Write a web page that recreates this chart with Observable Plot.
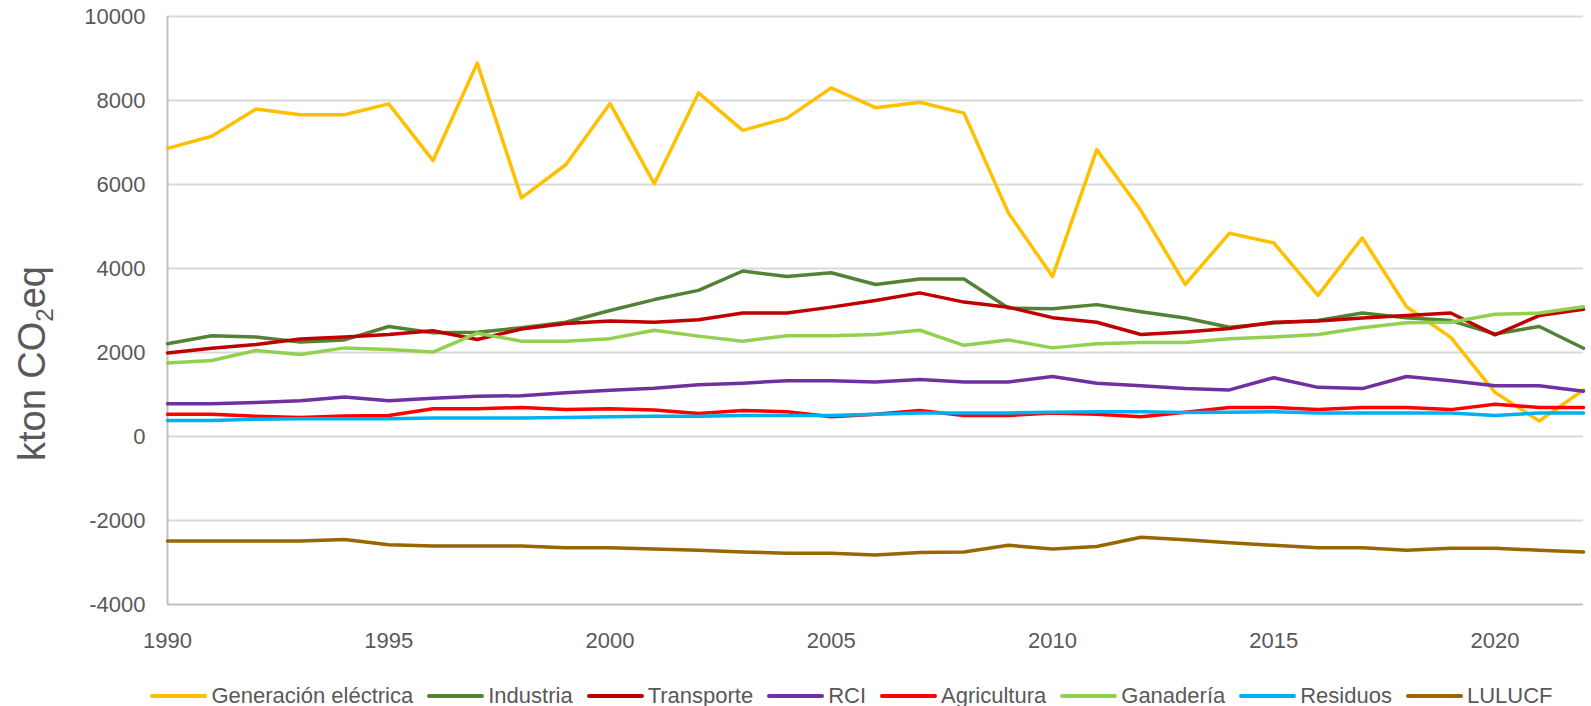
<!DOCTYPE html>
<html><head><meta charset="utf-8">
<script src="https://cdn.jsdelivr.net/npm/d3@7"></script>
<script src="https://cdn.jsdelivr.net/npm/@observablehq/plot@0.6"></script>
<style>
html,body{margin:0;padding:0;background:#fff;overflow:hidden;}
body{width:1591px;height:706px;font-family:"Liberation Sans",Arial,sans-serif;}
#legend{display:flex;justify-content:center;align-items:center;height:32px;padding-left:126px;box-sizing:border-box;width:1591px;font-size:22px;color:#595959;white-space:nowrap;}
.item{display:flex;align-items:center;margin-right:14px;}
.sw{width:57px;height:4px;margin-right:4px;border-radius:2px;}
</style></head><body>
<div id="chart"></div><div id="legend"></div>
<script>
const years = [1990,1991,1992,1993,1994,1995,1996,1997,1998,1999,2000,2001,2002,2003,2004,2005,2006,2007,2008,2009,2010,2011,2012,2013,2014,2015,2016,2017,2018,2019,2020,2021,2022];
const generacion = [6860,7150,7800,7660,7660,7920,6570,8890,5680,6470,7930,6020,8180,7290,7580,8300,7830,7960,7700,5330,3810,6830,5380,3620,4840,4610,3360,4730,3090,2360,1050,370,1110];
const industria = [2210,2400,2370,2250,2300,2620,2470,2480,2590,2720,3000,3260,3480,3940,3810,3900,3620,3750,3750,3060,3040,3140,2970,2820,2600,2700,2760,2940,2830,2760,2440,2620,2100];
const transporte = [1990,2100,2190,2320,2370,2430,2520,2310,2560,2690,2750,2720,2780,2940,2940,3080,3240,3420,3200,3080,2830,2720,2430,2490,2570,2720,2750,2820,2880,2940,2420,2880,3030];
const rci = [780,780,810,850,940,850,910,960,970,1040,1100,1150,1230,1270,1330,1330,1300,1360,1300,1300,1430,1270,1210,1140,1110,1400,1170,1140,1430,1330,1210,1210,1080];
const agricultura = [530,530,480,450,490,500,660,660,690,640,660,630,550,620,590,470,530,620,500,500,560,530,470,580,690,690,640,690,690,640,770,690,690];
const ganaderia = [1750,1810,2050,1950,2110,2070,2010,2460,2270,2270,2330,2530,2390,2270,2400,2400,2430,2530,2170,2300,2110,2210,2240,2240,2330,2370,2430,2590,2710,2720,2910,2940,3090];
const residuos = [380,380,410,420,420,420,440,440,440,450,470,480,480,500,500,500,530,560,560,560,580,590,590,570,580,590,560,560,560,560,500,560,560];
const lulucf = [-2490,-2490,-2490,-2490,-2450,-2580,-2610,-2610,-2610,-2650,-2650,-2680,-2710,-2750,-2780,-2780,-2820,-2760,-2750,-2590,-2680,-2620,-2400,-2460,-2530,-2590,-2650,-2650,-2710,-2660,-2660,-2710,-2750];

const seriesNames = ["Generación eléctrica","Industria","Transporte","RCI","Agricultura","Ganadería","Residuos","LULUCF"];
const seriesColors = ["#FFC000","#548235","#C00000","#7030A0","#FF0000","#92D050","#00B0F0","#996600"];
const seriesValues = [generacion, industria, transporte, rci, agricultura, ganaderia, residuos, lulucf];
const xTicks = [1990,1995,2000,2005,2010,2015,2020];
const yTicks = [-4000,-2000,0,2000,4000,6000,8000,10000];
const yTitle = "kton CO₂eq";

const rows = [];
seriesNames.forEach((name, i) => seriesValues[i].forEach((v, j) => rows.push({year: years[j], value: v, series: name})));

const chart = Plot.plot({
  width: 1591, height: 680,
  marginLeft: 167, marginRight: 8, marginTop: 16, marginBottom: 76,
  style: {fontFamily: "'Liberation Sans', Arial, sans-serif", fontSize: "22px", color: "#595959", background: "#fff"},
  x: {domain: [1990, 2022], ticks: xTicks, tickFormat: d => String(d), tickSize: 0, tickPadding: 28, label: null},
  y: {domain: [-4000, 10000], ticks: yTicks, tickFormat: d => String(d), tickSize: 0, tickPadding: 22, label: null},
  color: {domain: seriesNames, range: seriesColors},
  marks: [
    Plot.gridY(yTicks.filter(d => d > -4000), {stroke: "#D9D9D9", strokeOpacity: 1, strokeWidth: 2}),
    Plot.ruleX([1990], {stroke: "#BFBFBF", strokeWidth: 2}),
    Plot.ruleY([-4000], {stroke: "#BFBFBF", strokeWidth: 2}),
    Plot.lineY(rows, {x: "year", y: "value", z: "series", stroke: "series", strokeWidth: 3.5, strokeLinejoin: "round", strokeLinecap: "round"}),
    Plot.text([yTitle], {frameAnchor: "left", textAnchor: "middle", rotate: -90, dx: -135, dy: 53, fontSize: 38, fill: "#595959"})
  ]
});
document.getElementById("chart").appendChild(chart);

// subscript the "2" in the axis title
chart.querySelectorAll("text").forEach(t => {
  if (t.textContent === yTitle) {
    const parts = yTitle.split("₂");
    t.textContent = "";
    const ns = "http://www.w3.org/2000/svg";
    const a = document.createElementNS(ns, "tspan"); a.textContent = parts[0];
    const b = document.createElementNS(ns, "tspan"); b.textContent = "2"; b.setAttribute("font-size", "24"); b.setAttribute("dy", "8");
    const c = document.createElementNS(ns, "tspan"); c.textContent = parts[1]; c.setAttribute("dy", "-8");
    t.append(a, b, c);
  }
});

const legend = document.getElementById("legend");
seriesNames.forEach((name, i) => {
  const it = document.createElement("div"); it.className = "item";
  const sw = document.createElement("div"); sw.className = "sw"; sw.style.background = seriesColors[i];
  const lb = document.createElement("span"); lb.textContent = name;
  it.append(sw, lb); legend.appendChild(it);
});
</script></body></html>
